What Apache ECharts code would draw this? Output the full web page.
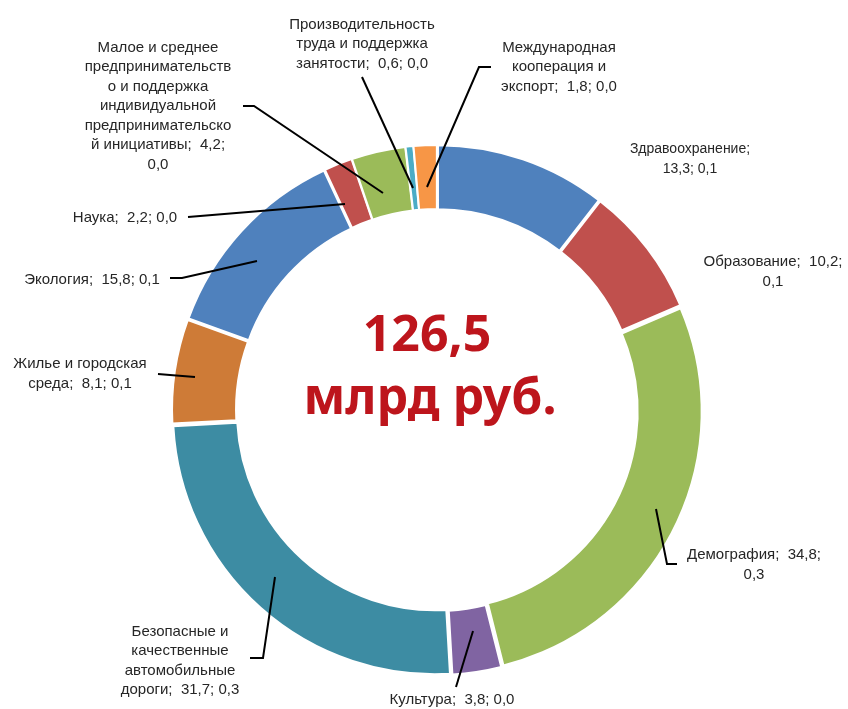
<!DOCTYPE html>
<html>
<head>
<meta charset="utf-8">
<script src="https://cdn.jsdelivr.net/npm/echarts@6/dist/echarts.min.js"></script>
<style>
  html, body { margin: 0; padding: 0; background: #fff; }
  #donut { width: 848px; height: 709px; }
</style>
</head>
<body>
<div id="donut"></div>
<script>
// категории и значения (млрд руб.)
var categories = ['Здравоохранение', 'Образование', 'Демография', 'Культура',
    'Безопасные и качественные автомобильные дороги', 'Жилье и городская среда',
    'Экология', 'Наука', 'Малое и среднее предпринимательство и поддержка индивидуальной предпринимательской инициативы',
    'Производительность труда и поддержка занятости', 'Международная кооперация и экспорт'];
var values = [13.3, 10.2, 34.8, 3.8, 31.7, 8.1, 15.8, 2.2, 4.2, 0.6, 1.8];
var colors = ['#4F81BD', '#C0504D', '#9BBB59', '#8064A2', '#3D8CA3', '#CE7B37',
    '#4F81BD', '#C0504D', '#9BBB59', '#4BACC6', '#F79646'];
// переносы строк в подписях, {v} - значение, {p} - доля
var labelTpl = [
    'Здравоохранение;\n{v}; {p}',
    'Образование;  {v};\n{p}',
    'Демография;  {v};\n{p}',
    'Культура;  {v}; {p}',
    'Безопасные и\nкачественные\nавтомобильные\nдороги;  {v}; {p}',
    'Жилье и городская\nсреда;  {v}; {p}',
    'Экология;  {v}; {p}',
    'Наука;  {v}; {p}',
    'Малое и среднее\nпредпринимательств\nо и поддержка\nиндивидуальной\nпредпринимательско\nй инициативы;  {v};\n{p}',
    'Производительность\nтруда и поддержка\nзанятости;  {v}; {p}',
    'Международная\nкооперация и\nэкспорт;  {v}; {p}'
];
var totalText = '126,5';

// расположение подписей и выносок
var labelPos = [
    {x: 690, y: 159, size: 14, line: null},
    {x: 773, y: 272, size: 15, line: null},
    {x: 754, y: 565, size: 15, line: [[656, 509], [667, 564], [677, 564]]},
    {x: 452, y: 700, size: 15, line: [[473, 631], [456, 687]]},
    {x: 180, y: 661, size: 15, line: [[275, 577], [263, 658], [250, 658]]},
    {x: 80, y: 374, size: 15, line: [[195, 377], [170, 375], [158, 374]]},
    {x: 92, y: 280, size: 15, line: [[257, 261], [182, 278], [170, 278]]},
    {x: 125, y: 218, size: 15, line: [[345, 204], [188, 217]]},
    {x: 158, y: 106, size: 15, line: [[383, 193], [254, 106], [243, 106]]},
    {x: 362, y: 44, size: 15, line: [[413, 188], [362, 77]]},
    {x: 559, y: 67, size: 15, line: [[427, 187], [479, 67], [491, 67]]}
];

var total = values.reduce(function (a, b) { return a + b; }, 0);
function fmt(n) { return n.toFixed(1).replace('.', ','); }

var pieData = categories.map(function (name, i) {
    return { name: name, value: values[i], selected: true, itemStyle: { color: colors[i] } };
});

var graphics = [];
labelPos.forEach(function (pos, i) {
    if (pos.line) {
        graphics.push({
            type: 'polyline', z: 10,
            shape: { points: pos.line },
            style: { stroke: '#000', lineWidth: 2, fill: null }
        });
    }
    graphics.push({
        type: 'text', x: pos.x, y: pos.y, z: 10,
        style: {
            text: labelTpl[i].replace('{v}', fmt(values[i])).replace('{p}', fmt(values[i] / total)),
            fill: '#262626', align: 'center', verticalAlign: 'middle',
            font: pos.size + 'px "Liberation Sans", Arial, sans-serif',
            lineHeight: 19.5
        }
    });
});
['126,5', 'млрд руб.'].forEach(function (t, k) {
    graphics.push({
        type: 'text', x: k ? 430 : 427, y: k ? 400 : 337, z: 10,
        style: {
            text: t, fill: '#BD151C', align: 'center', verticalAlign: 'middle',
            font: 'bold 50px "Noto Sans"',
            shadowColor: 'rgba(0,0,0,0.45)', shadowBlur: 4, shadowOffsetX: 3, shadowOffsetY: 3
        }
    });
});

var chart = echarts.init(document.getElementById('donut'));
chart.setOption({
    animation: false,
    graphic: graphics,
    series: [{
        type: 'pie',
        center: [437, 410],
        radius: [198, 262],
        startAngle: 90,
        clockwise: true,
        selectedMode: 'multiple',
        selectedOffset: 3,
        emphasis: { disabled: true },
        itemStyle: { borderColor: '#fff', borderWidth: 2 },
        label: { show: false },
        labelLine: { show: false },
        data: pieData
    }]
});
</script>
</body>
</html>
